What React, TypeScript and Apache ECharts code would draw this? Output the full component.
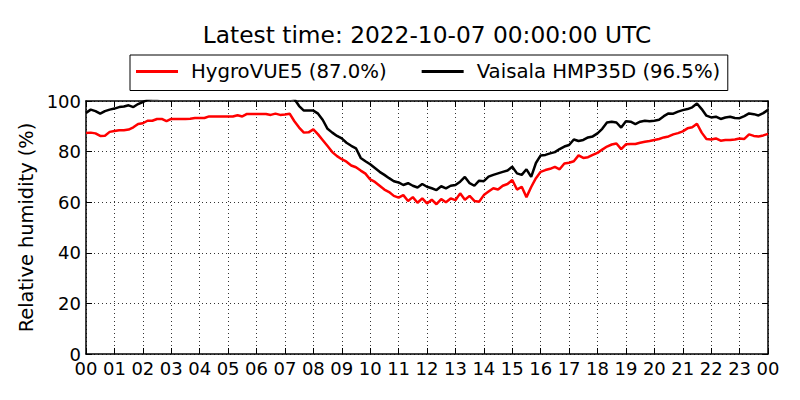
import React, { useEffect, useRef } from "react";
import * as echarts from "echarts";

const TITLE = "Latest time: 2022-10-07 00:00:00 UTC";
const SERIES_NAMES = ["HygroVUE5 (87.0%)", "Vaisala HMP35D (96.5%)"];
const X_TICK_LABELS = [
  "00", "01", "02", "03", "04", "05", "06", "07", "08", "09", "10", "11",
  "12", "13", "14", "15", "16", "17", "18", "19", "20", "21", "22", "23", "00",
];
const Y_TICKS = [0, 20, 40, 60, 80, 100];
const STEP_MINUTES = 10;

// HygroVUE5 relative humidity (%), every 10 minutes from 00:00 to 24:00
const hygro = [
  87.4, 87.5, 87.2, 86.2, 86.3, 87.8,
  88.1, 88.4, 88.4, 88.7, 89.6, 90.9,
  91.2, 92.2, 92.2, 92.9, 92.9, 92.0,
  92.9, 92.9, 92.9, 92.9, 93.0, 93.3,
  93.3, 93.3, 93.9, 93.9, 93.9, 93.9,
  93.9, 93.9, 94.4, 93.9, 94.9, 94.9,
  94.9, 94.9, 94.9, 94.5, 95.0, 94.5,
  94.7, 95.0, 92.0, 89.5, 87.5, 87.6,
  88.8, 86.8, 84.5, 82.2, 79.8, 78.2,
  77.0, 76.0, 74.5, 73.8, 72.5, 71.3,
  69.0, 68.0, 66.5, 65.0, 64.0, 62.5,
  61.8, 62.8, 60.5, 62.0, 59.8, 61.5,
  59.5, 61.0, 59.2, 61.2, 60.0, 61.5,
  60.8, 63.5, 61.0, 62.5, 60.5, 60.2,
  62.8, 64.2, 65.5, 65.0, 66.5, 67.2,
  68.8, 65.0, 66.1, 62.0, 66.0, 69.5,
  72.0, 72.7, 73.2, 74.0, 73.0, 75.3,
  75.6, 76.2, 78.5, 77.5, 77.8, 78.7,
  79.5, 80.8, 82.0, 82.8, 83.2, 81.0,
  82.9, 83.0, 83.0, 83.5, 83.9, 84.2,
  84.6, 85.0, 85.6, 86.0, 86.8, 87.3,
  88.0, 89.2, 89.6, 91.0, 87.5, 85.0,
  84.8, 85.2, 84.3, 84.6, 84.6, 84.8,
  85.2, 85.0, 86.8, 86.2, 86.0, 86.4,
  87.0,
];

// Vaisala HMP35D relative humidity (%), every 10 minutes from 00:00 to 24:00
const vaisala = [
  95.3, 96.6, 96.0, 95.0, 96.0, 96.6,
  97.0, 97.6, 97.8, 98.3, 97.6, 98.8,
  99.6, 100.5, 101.0, 101.0, 101.5, 101.5,
  101.5, 101.5, 101.5, 101.5, 101.5, 101.5,
  102.0, 102.0, 102.0, 102.0, 102.0, 102.0,
  102.0, 102.0, 102.0, 102.0, 102.0, 102.0,
  102.0, 102.0, 102.0, 102.0, 102.0, 102.0,
  102.0, 101.5, 100.8, 98.0, 96.2, 96.2,
  96.2, 95.0, 92.5, 89.0, 87.5, 86.2,
  85.2, 83.5, 82.3, 81.3, 77.5, 76.2,
  75.0, 73.5, 72.0, 70.8, 69.5, 68.3,
  67.8, 66.8, 67.5, 66.5, 65.8, 67.2,
  66.1, 65.5, 64.8, 66.3, 65.5, 66.5,
  66.8, 68.1, 70.0, 67.5, 66.5, 68.5,
  68.3, 70.1, 70.8, 71.4, 72.0, 72.5,
  74.0, 71.4, 70.8, 73.0, 70.0, 75.5,
  78.5, 78.7, 79.3, 79.8, 81.0, 82.0,
  82.6, 84.8, 84.2, 84.6, 85.6, 86.0,
  87.2, 89.0, 91.5, 91.8, 91.5, 89.5,
  92.0, 91.8, 90.9, 91.8, 92.2, 92.0,
  92.2, 92.6, 94.0, 95.1, 95.0, 95.8,
  96.4, 96.8, 97.5, 99.0, 96.8, 94.2,
  93.5, 93.8, 92.9, 93.5, 93.8, 93.3,
  93.2, 94.0, 95.1, 94.8, 94.3, 95.2,
  96.5,
];

const FONT = "DejaVu Sans";

const toPairs = (vals: number[]) =>
  vals.map((v, i) => [(i * STEP_MINUTES) / 60, v]);

export default function App() {
  const ref = useRef<HTMLDivElement>(null);

  useEffect(() => {
    if (!ref.current) return;
    const chart = echarts.init(ref.current, undefined, { renderer: "svg" });

    const frameLine = { show: true, onZero: false, lineStyle: { color: "#000", width: 1.5 } };
    const innerTick = { show: true, inside: true, length: 6, lineStyle: { color: "#000", width: 1 } };
    const dotted = { show: true, lineStyle: { color: "#000", width: 0.8, type: [1, 3] as any } };

    chart.setOption({
      animation: false,
      backgroundColor: "#fff",
      textStyle: { fontFamily: FONT },
      graphic: [
        {
          type: "text",
          x: 427,
          y: 34,
          style: {
            text: TITLE,
            font: `23.3px '${FONT}'`,
            fill: "#000",
            align: "center",
            verticalAlign: "middle",
          },
        },
      ],
      legend: {
        left: 130,
        top: 55,
        orient: "horizontal",
        padding: [6, 7.5, 8.5, 6],
        itemGap: 35,
        itemWidth: 42,
        itemHeight: 3,
        borderColor: "#000",
        borderWidth: 1,
        backgroundColor: "#fff",
        icon: "rect",
        data: SERIES_NAMES,
        textStyle: {
          fontFamily: FONT,
          fontSize: 19.7,
          color: "#000",
          lineHeight: 21,
          padding: [0, 0, 0, 8],
        },
      },
      grid: {
        left: 86,
        right: 32,
        top: 101,
        bottom: 46,
        containLabel: false,
        outerBoundsMode: "none",
      },
      xAxis: [
        {
          type: "value",
          min: 0,
          max: 24,
          interval: 1,
          position: "bottom",
          axisLine: frameLine,
          axisTick: innerTick,
          splitLine: dotted,
          axisLabel: {
            show: true,
            margin: 7.5,
            color: "#000",
            fontFamily: FONT,
            fontSize: 18,
            lineHeight: 14,
            formatter: (v: number) => X_TICK_LABELS[Math.round(v)] ?? "",
          },
        },
        {
          type: "value",
          min: 0,
          max: 24,
          interval: 1,
          position: "top",
          axisLine: frameLine,
          axisTick: innerTick,
          splitLine: { show: false },
          axisLabel: { show: false },
        },
      ],
      yAxis: [
        {
          type: "value",
          min: Y_TICKS[0],
          max: Y_TICKS[Y_TICKS.length - 1],
          interval: Y_TICKS[1] - Y_TICKS[0],
          position: "left",
          name: "Relative humidity (%)",
          nameLocation: "middle",
          nameGap: 49,
          nameTextStyle: { color: "#000", fontFamily: FONT, fontSize: 19.4 },
          axisLine: frameLine,
          axisTick: innerTick,
          splitLine: dotted,
          axisLabel: {
            show: true,
            margin: 5,
            color: "#000",
            fontFamily: FONT,
            fontSize: 18,
            lineHeight: 14,
          },
        },
        {
          type: "value",
          min: Y_TICKS[0],
          max: Y_TICKS[Y_TICKS.length - 1],
          interval: Y_TICKS[1] - Y_TICKS[0],
          position: "right",
          axisLine: frameLine,
          axisTick: innerTick,
          splitLine: { show: false },
          axisLabel: { show: false },
        },
      ],
      series: [
        {
          name: SERIES_NAMES[0],
          type: "line",
          xAxisIndex: 0,
          yAxisIndex: 0,
          data: toPairs(hygro),
          showSymbol: false,
          symbol: "none",
          clip: true,
          color: "#ff0000",
          lineStyle: { color: "#ff0000", width: 2.5 },
        },
        {
          name: SERIES_NAMES[1],
          type: "line",
          xAxisIndex: 0,
          yAxisIndex: 0,
          data: toPairs(vaisala),
          showSymbol: false,
          symbol: "none",
          clip: true,
          color: "#000000",
          lineStyle: { color: "#000000", width: 2.5 },
        },
      ],
    });

    return () => chart.dispose();
  }, []);

  return (
    <div
      ref={ref}
      style={{ position: "absolute", left: 0, top: 0, width: 800, height: 400, background: "#fff" }}
    />
  );
}
